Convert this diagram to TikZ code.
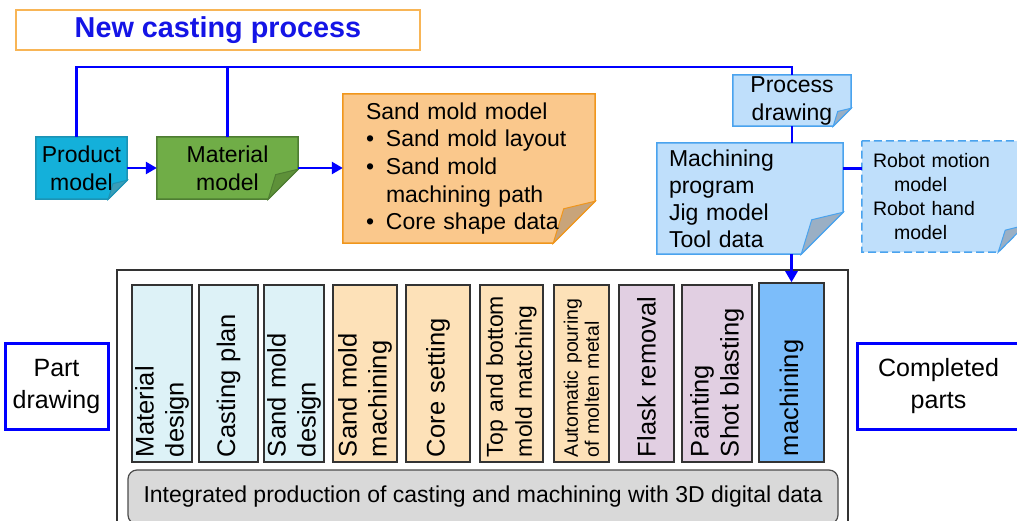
\documentclass[tikz,border=0pt]{standalone}
\usepackage{fontspec}
\setmainfont{Liberation Sans}
\usetikzlibrary{positioning,backgrounds,arrows.meta}

\definecolor{wireblue}{HTML}{0000FF}
\definecolor{titleline}{HTML}{F8B556}
\definecolor{titletext}{HTML}{1414E6}
\definecolor{prodfill}{HTML}{14B0DA}
\definecolor{prodline}{HTML}{1C93B5}
\definecolor{prodfold}{HTML}{3A9DB8}
\definecolor{matfill}{HTML}{70AD47}
\definecolor{matline}{HTML}{4E7D32}
\definecolor{matfold}{HTML}{5E9139}
\definecolor{sandfill}{HTML}{FAC88C}
\definecolor{sandline}{HTML}{F0961C}
\definecolor{sandfold}{HTML}{C8A47A}
\definecolor{docfill}{HTML}{BFDFFB}
\definecolor{docline}{HTML}{4AA3EE}
\definecolor{docfold}{HTML}{9AAFC4}
\definecolor{designfill}{HTML}{DDF2F7}
\definecolor{moldfill}{HTML}{FDE1B8}
\definecolor{finishfill}{HTML}{E1CFE2}
\definecolor{machfill}{HTML}{7CBDFA}
\definecolor{barfill}{HTML}{D9D9D9}

\begin{document}
\begin{tikzpicture}[x=1pt, y=1pt,
    wire/.style={wireblue, line width=2.5pt},
    arrow/.style={wire, -{Triangle[length=11pt,width=12pt]}},
    notetext/.style={align=center, inner sep=0pt, font=\fontsize{23}{28}\selectfont},
    endbox/.style={draw=wireblue, line width=3pt, fill=white, align=center,
      minimum height=86, font=\fontsize{25}{32}\selectfont},
    stepbox/.style={draw=black!80, line width=1.5pt, rotate=90, minimum width=177,
      inner xsep=5pt, text width=167, align=left}]
    \useasboundingbox (0,0) rectangle (1017,520);

    % Title
    \node[draw=titleline, line width=1.5pt, minimum width=404, minimum height=40,
      text=titletext, font=\bfseries\fontsize{28.8}{34}\selectfont] (title) at (218,490) {New casting process};

    % Data models
    \node[notetext, minimum width=91, minimum height=62] (prod) at (81.5,352) {Product\\model};
    \node[notetext, minimum width=141, minimum height=62] (mat) at (227.5,352) {Material\\model};
    \node[notetext, minimum width=252, minimum height=149, text width=206, inner xsep=23pt,
      align=left, font=\fontsize{23}{27.7}\selectfont] (sand) at (469,351.5) {Sand mold model\\
      \makebox[20pt][l]{\textbullet}Sand mold layout\\
      \makebox[20pt][l]{\textbullet}Sand mold\\
      \hspace*{20pt}machining path\\
      \makebox[20pt][l]{\textbullet}Core shape data};
    \node[notetext, minimum width=118, minimum height=51] (pdraw) at (792,419.5) {Process\\drawing};
    \node[notetext, minimum width=186, minimum height=111, text width=162, inner xsep=12pt,
      align=left, font=\fontsize{23}{27}\selectfont] (mprog) at (750,321.5) {Machining\\program\\Jig model\\Tool data};
    \node[notetext, minimum width=163, minimum height=111, text width=141, inner xsep=11pt,
      align=left, font=\fontsize{19.5}{24}\selectfont] (robot) at (943.5,323.5) {Robot motion\\
      \hspace*{21pt}model\\Robot hand\\\hspace*{21pt}model};

    % Folded corners
    \begin{scope}[on background layer]
      \foreach \n/\f/\c in {prod/19/prod, mat/30/mat, sand/42/sand, pdraw/18/doc, mprog/42/doc} {
          \filldraw[fill=\c fill, draw=\c line, line width=1.5pt] (\n.north west) -- (\n.north east)
            -- ([yshift=\f]\n.south east) -- ([xshift=-\f]\n.south east) -- (\n.south west) -- cycle;
          \filldraw[fill=\c fold, draw=\c line, line width=1pt] ([yshift=\f]\n.south east)
            -- ([xshift=-0.75*\f, yshift=0.82*\f]\n.south east) -- ([xshift=-\f]\n.south east) -- cycle;
        }
      \filldraw[fill=docfill, draw=docline, line width=1.5pt, dash pattern=on 8pt off 4pt] (robot.north west) -- (robot.north east)
        -- ([yshift=27]robot.south east) -- ([xshift=-27]robot.south east) -- (robot.south west) -- cycle;
      \filldraw[fill=docfold, draw=docline, line width=1pt] ([yshift=27]robot.south east)
        -- ([xshift=-20, yshift=22]robot.south east) -- ([xshift=-27]robot.south east) -- cycle;
    \end{scope}

    % Connectors
    \coordinate (bus) at (400,453);
    \draw[wire] ([xshift=-5]prod.north) |- (bus) -| (pdraw.north);
    \draw[wire] (mat.north) -- (mat.north |- bus);
    \draw[arrow] (prod.east) -- (mat.west);
    \draw[arrow] (mat.east) -- (mat.east -| sand.west);
    \draw[wire] (pdraw.south) -- (pdraw.south |- mprog.north);
    \draw[wire] ([yshift=30]mprog.east) -- ([yshift=30]mprog.east -| robot.west);

    % Production line
    \node[draw=black!80, line width=1.5pt, fill=white, minimum width=731, minimum height=270] (frame) at (482.5,115) {};
    \node[draw=black!70, line width=1.2pt, fill=barfill, rounded corners=9pt, minimum width=710,
      minimum height=54, font=\fontsize{23}{27}\selectfont] (bar) at (483,23)
      {Integrated production of casting and machining with 3D digital data};
    \foreach \xc/\w/\c/\fs/\bs/\t [count=\i] in {
        162/58/design/25.5/30/{Material\\design},
        228.5/59/design/25.5/30/{Casting plan},
        294/58/design/25.5/30/{Sand mold\\design},
        365/64/mold/25.5/30/{Sand mold\\machining},
        438/64/mold/25.5/30/{Core setting},
        511.5/63/mold/23/29/{Top and bottom\\mold matching},
        581.5/55/mold/19.5/21/{Automatic pouring\\of molten metal},
        646.5/55/finish/25.5/30/{Flask removal},
        717/70/finish/25.5/30/{Painting\\Shot blasting}} {
        \node[stepbox, fill=\c fill, minimum height=\w, font=\fontsize{\fs}{\bs}\selectfont] (s\i) at (\xc,146.5) {\t};
      }
    \node[stepbox, fill=machfill, minimum height=65, minimum width=179, font=\fontsize{25.5}{30}\selectfont] (s10) at (791.5,147.5) {machining};
    % rotated box: its east anchor is the top side
    \draw[arrow] (mprog.south -| s10.east) -- (s10.east);

    % Input and output
    \node[endbox, minimum width=103] (part) at (56.5,134) {Part\\drawing};
    \node[endbox, minimum width=163] (done) at (938.5,134) {Completed\\parts};
  \end{tikzpicture}
\end{document}
